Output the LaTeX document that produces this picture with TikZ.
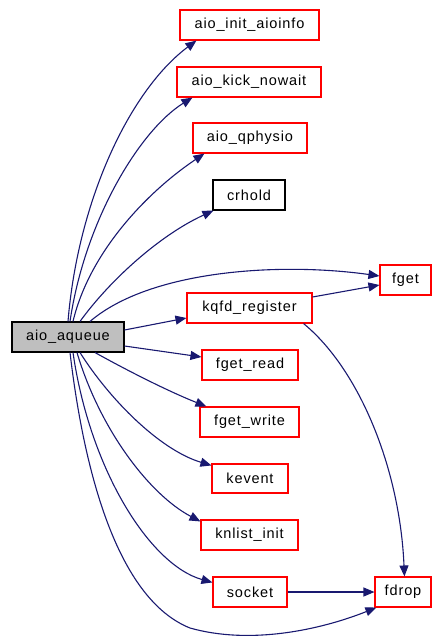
\documentclass[tikz,border=0pt]{standalone}
\usepackage{fontspec}
\setmainfont{Liberation Sans}[LetterSpace=6]
\usetikzlibrary{arrows.meta}
\definecolor{edgeblue}{HTML}{191970}
\definecolor{rootgray}{HTML}{BFBFBF}
\begin{document}
\begin{tikzpicture}[x=1pt,y=-1pt,
  fn/.style={draw=red,fill=white,line width=1.1pt,inner sep=0pt,minimum height=30pt,
    font=\fontsize{14.5}{16}\selectfont},
  root/.style={fn,draw=black,fill=rootgray},
  plain/.style={fn,draw=black},
  edge/.style={draw=edgeblue,line width=1.1pt,
    -{Triangle[length=11pt,width=9pt]}}]
\useasboundingbox (0,0) rectangle (432,639);
% callees of aio_aqueue
\node[root,minimum width=112pt]  (aq)     at (68,337)    {aio\_aqueue};
\node[fn,minimum width=139pt]    (init)   at (249.5,25)  {aio\_init\_aioinfo};
\node[fn,minimum width=144pt]    (kick)   at (249,82)    {aio\_kick\_nowait};
\node[fn,minimum width=114pt]    (qphys)  at (250,138)   {aio\_qphysio};
\node[plain,minimum width=72pt]  (crhold) at (249,195)   {crhold};
\node[fn,minimum width=51pt]     (fget)   at (405.5,280) {fget};
\node[fn,minimum width=125pt]    (kqfd)   at (249.5,308) {kqfd\_register};
\node[fn,minimum width=96pt]     (fgr)    at (250,365)   {fget\_read};
\node[fn,minimum width=99pt]     (fgw)    at (249.5,422) {fget\_write};
\node[fn,minimum width=76pt,minimum height=29pt] (kev) at (250,478.5) {kevent};
\node[fn,minimum width=97pt]     (knl)    at (249.5,535) {knlist\_init};
\node[fn,minimum width=74pt]     (sock)   at (250,592)   {socket};
\node[fn,minimum width=56pt]     (fdrop)  at (403,592)   {fdrop};

% call edges
\draw[edge] (aq.north) .. controls (78,200) and (130,90) .. ([xshift=17pt]init.south west);
\draw[edge] ([xshift=2pt]aq.north) .. controls (85,220) and (140,130) .. ([xshift=16pt]kick.south west);
\draw[edge] ([xshift=5pt]aq.north) .. controls (90,250) and (150,190) .. ([xshift=12pt]qphys.south west);
\draw[edge] ([xshift=12pt]aq.north) .. controls (110,280) and (160,235) .. ([xshift=1pt]crhold.south west);
\draw[edge] ([xshift=22pt]aq.north) .. controls (150,270) and (280,262) .. ([yshift=4pt]fget.west);
\draw[edge] ([yshift=7pt]aq.east) -- ([yshift=-10pt]kqfd.west);
\draw[edge] ([yshift=-9pt]aq.east) -- ([yshift=8pt]fgr.west);
\draw[edge] ([xshift=27pt]aq.south) .. controls (130,372) and (170,392) .. ([xshift=7pt]fgw.north west);
\draw[edge] ([xshift=12pt]aq.south) .. controls (110,400) and (160,450) .. ([yshift=-2pt]kev.north west);
\draw[edge] ([xshift=9pt]aq.south) .. controls (100,430) and (150,495) .. ([yshift=-2pt]knl.north west);
\draw[edge] ([xshift=5pt]aq.south) .. controls (90,470) and (150,565) .. ([yshift=-6pt]sock.north west);
\draw[edge] ([xshift=2pt]aq.south) .. controls (85,480) and (120,600) .. (190,628)
  .. controls (250,645) and (320,630) .. ([xshift=2pt]fdrop.south west);
\draw[edge] ([yshift=11pt]kqfd.east) -- ([yshift=-5pt]fget.west);
\draw[edge] ([xshift=-9pt]kqfd.south east) .. controls (360,370) and (400,470) .. ([xshift=30pt]fdrop.north west);
\draw[edge] (sock.east) -- (fdrop.west);
\end{tikzpicture}
\end{document}
